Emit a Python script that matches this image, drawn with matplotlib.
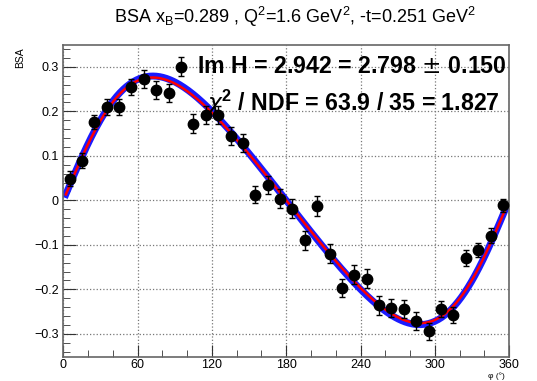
import numpy as np
import matplotlib.pyplot as plt
from matplotlib.ticker import MultipleLocator

plt.rcParams['font.family'] = ['Liberation Sans', 'DejaVu Sans']

# BSA points per phi bin (deg)
phi = [5, 15, 25, 35, 45, 55, 65, 75, 85, 95, 105, 115, 125, 135, 145, 155, 165, 175,
       185, 195, 205, 215, 225, 235, 245, 255, 265, 275, 285, 295, 305, 315, 325, 335, 345, 355]
bsa = [0.049, 0.089, 0.176, 0.209, 0.210, 0.255, 0.272, 0.248, 0.242, 0.300, 0.172, 0.192,
       0.192, 0.144, 0.129, 0.013, 0.035, 0.004, -0.019, -0.090, -0.013, -0.120, -0.197, -0.167,
       -0.176, -0.236, -0.242, -0.244, -0.272, -0.294, -0.245, -0.258, -0.129, -0.111, -0.079, -0.011]
err = [0.016, 0.017, 0.016, 0.018, 0.018, 0.018, 0.020, 0.021, 0.020, 0.021, 0.021, 0.021,
       0.021, 0.020, 0.020, 0.020, 0.020, 0.021, 0.021, 0.022, 0.022, 0.021, 0.021, 0.022,
       0.021, 0.022, 0.020, 0.021, 0.020, 0.019, 0.018, 0.018, 0.018, 0.016, 0.016, 0.015]

# fit curves  a*sin(phi)/(1+b*cos(phi))
fit_red = (0.2625, -0.309)
fit_blue = (0.2660, -0.305)

title = r"BSA x$_{\mathregular{B}}$=0.289 , Q$^{\mathregular{2}}$=1.6 GeV$^{\mathregular{2}}$, -t=0.251 GeV$^{\mathregular{2}}$"
line1 = "Im H = 2.942 = 2.798 $\\pm$ 0.150"
line2 = "$\\chi^{\\mathregular{2}}$ / NDF = 63.9 / 35 = 1.827"


def model(x, p):
    r = np.radians(x)
    return p[0] * np.sin(r) / (1 + p[1] * np.cos(r))


fig = plt.figure(figsize=(5.37, 3.81), dpi=100)
ax = fig.add_axes([0.118, 0.063, 0.830, 0.820])

xs = np.linspace(2, 358, 400)
ax.plot(xs, model(xs, fit_blue), color='#1a1aff', lw=5, zorder=2)
ax.plot(xs, model(xs, fit_red), color='#ff0000', lw=1.8, zorder=3)
ax.errorbar(phi, bsa, yerr=err, fmt='o', color='black', ms=7.5, elinewidth=1,
            capsize=2.5, capthick=1, zorder=4)

ax.set_xlim(0, 360)
ax.set_ylim(-0.352, 0.35)
ax.xaxis.set_major_locator(MultipleLocator(60))
ax.xaxis.set_minor_locator(MultipleLocator(20))
ax.yaxis.set_major_locator(MultipleLocator(0.1))
ax.yaxis.set_minor_locator(MultipleLocator(0.02))
ax.tick_params(which='both', direction='in', labelsize=9, color='#333333')
ax.tick_params(which='major', length=9)
ax.tick_params(which='minor', length=5)
ax.tick_params(axis='x', pad=1.5)
ax.set_yticks([-0.3, -0.2, -0.1, 0, 0.1, 0.2, 0.3])
ax.set_yticklabels(['\u22120.3', '\u22120.2', '\u22120.1', '0', '0.1', '0.2', '0.3'])
ax.grid(True, which='major', ls=':', color='#777777', lw=0.9)
for s in ax.spines.values():
    s.set_color('#666666')
    s.set_linewidth(1.2)

fig.text(0.55, 0.955, title, ha='center', va='center', fontsize=13)
fig.text(0.038, 0.875, "BSA", rotation=90, ha='center', va='top', fontsize=7.5)
fig.text(0.925, 0.002, "\u03c6 (\u00b0)", ha='center', va='bottom', fontsize=6)

ax.text(108, 0.300, line1, ha='left', va='center', fontsize=16.7, fontweight='bold')
ax.text(115, 0.219, line2, ha='left', va='center', fontsize=16.7, fontweight='bold')

fig.savefig('out.png', dpi=100)
